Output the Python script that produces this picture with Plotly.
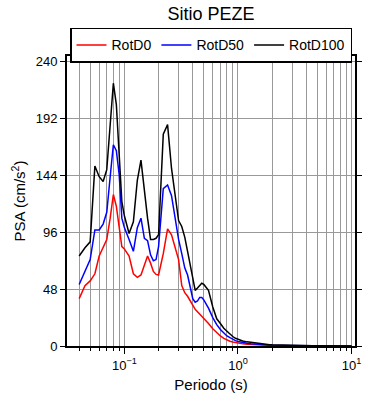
import plotly.graph_objects as go

periods = [0.04, 0.045, 0.05, 0.055, 0.06, 0.065, 0.07, 0.075, 0.08, 0.085, 0.09, 0.095,
           0.10, 0.11, 0.12, 0.13, 0.14, 0.15, 0.16, 0.17, 0.18, 0.19,
           0.20, 0.22, 0.24, 0.26, 0.28, 0.30, 0.32, 0.34, 0.36, 0.38,
           0.40, 0.42, 0.44, 0.46, 0.48, 0.50, 0.55, 0.60, 0.65, 0.70,
           0.75, 0.80, 0.85, 0.90, 0.95, 1.0, 1.1, 1.2, 1.3, 1.4,
           1.5, 1.6, 1.7, 1.8, 1.9, 2.0, 2.5, 3.0, 3.5, 4.0,
           4.5, 5.0, 6.0, 7.0, 8.0, 9.0, 10.0]

rotd0 = [40, 51, 55, 61, 76, 83, 90, 108, 128, 118, 100, 84,
         82, 76, 61, 58, 60, 68, 76, 70, 63, 60.5,
         60, 78, 99, 94, 82, 73, 51, 45, 42, 38,
         34, 31, 29, 27, 26, 24, 19, 14.5, 11, 8.5,
         6.5, 5.0, 4.0, 3.3, 2.8, 2.3, 1.8, 1.5, 1.25, 1.05,
         0.9, 0.8, 0.7, 0.6, 0.55, 0.5, 0.3, 0.2, 0.15, 0.1,
         0.08, 0.06, 0.04, 0.03, 0.02, 0.02, 0.01]

rotd50 = [52, 63, 73, 98, 98, 103, 113, 143, 170, 165, 145, 108,
          100, 90, 80, 100, 108, 91, 89, 77, 72, 73,
          84, 133, 136, 127, 106, 90, 78, 66, 60, 48,
          40, 37, 38, 41, 41, 39, 32, 24, 18, 14,
          11, 8.5, 7.0, 5.5, 4.5, 3.8, 2.8, 2.3, 1.9, 1.6,
          1.3, 1.15, 1.0, 0.9, 0.8, 0.7, 0.45, 0.3, 0.2, 0.15,
          0.12, 0.09, 0.06, 0.04, 0.03, 0.03, 0.02]

rotd100 = [76, 83, 88, 152, 143, 139, 149, 191, 222, 204, 165, 122,
           110, 95, 105, 140, 157, 130, 108, 90, 90, 91,
           94, 179, 187, 150, 125, 106, 101, 92, 80, 68,
           56, 47, 49, 51, 53, 52, 47, 33, 23, 19,
           15, 12.5, 10, 8.0, 6.5, 5.5, 4.3, 3.5, 3.0, 2.5,
           2.1, 1.8, 1.5, 1.3, 1.15, 1.0, 0.6, 0.4, 0.3, 0.2,
           0.15, 0.12, 0.08, 0.06, 0.05, 0.04, 0.03]

series_names = ["RotD0", "RotD50", "RotD100"]
series_colors = ["#ff0000", "#0000ff", "#000000"]
yticks = [0, 48, 96, 144, 192, 240]
xtick_vals = [0.1, 1, 10]
xtick_text = ["10<sup>\u22121</sup>", "10<sup>0</sup>", "10<sup>1</sup>"]

fig = go.Figure()
for name, vals, col in zip(series_names, [rotd0, rotd50, rotd100], series_colors):
    fig.add_trace(go.Scatter(x=periods, y=vals, mode="lines", name=name,
                             line=dict(color=col, width=1.5)))
# invisible helper trace to carry the top (mirrored) axis with minor ticks
fig.add_trace(go.Scatter(x=periods, y=rotd100, xaxis="x2", mode="lines",
                         line=dict(color="rgba(0,0,0,0)", width=0),
                         showlegend=False, hoverinfo="skip"))

font = "Liberation Sans, Arial, sans-serif"
xr = [-1.505, 1.03]
fig.update_layout(
    width=390, height=400,
    margin=dict(l=67, r=35, t=56, b=54, autoexpand=False),
    paper_bgcolor="white", plot_bgcolor="white",
    font=dict(family=font, color="black", size=13),
    title=dict(text="Sitio PEZE", x=0.541, xanchor="center", y=0.965, yanchor="middle",
               font=dict(size=18)),
    showlegend=True,
    legend=dict(orientation="h", x=0.5, xanchor="center", y=1.097, yanchor="top",
                bordercolor="black", borderwidth=1.5, font=dict(size=14),
                bgcolor="white", itemwidth=30, tracegroupgap=0),
    xaxis=dict(type="log", range=xr, automargin=False,
               tickvals=xtick_vals, ticktext=xtick_text,
               ticks="outside", ticklen=6, tickwidth=1, tickcolor="black",
               showline=True, linecolor="black", linewidth=2, mirror=True,
               showgrid=True, gridcolor="#999999", gridwidth=0.8,
               minor=dict(ticks="outside", ticklen=3, tickwidth=1, tickcolor="black",
                          dtick="D1", showgrid=True, gridcolor="#999999", gridwidth=0.8),
               tickfont=dict(size=13),
               title=dict(text="Periodo (s)", font=dict(size=15), standoff=8),
               zeroline=False),
    xaxis2=dict(type="log", range=xr, automargin=False, overlaying="x", side="top",
                tickvals=xtick_vals, showticklabels=False,
                ticks="outside", ticklen=6, tickwidth=1, tickcolor="black",
                showline=False, showgrid=False, zeroline=False,
                minor=dict(ticks="outside", ticklen=3, tickwidth=1, tickcolor="black",
                           dtick="D1", showgrid=False)),
    yaxis=dict(range=[0, 245], tickvals=yticks, automargin=False,
               ticks="outside", ticklen=5, tickwidth=1, tickcolor="black",
               showline=True, linecolor="black", linewidth=2, mirror="allticks",
               showgrid=True, gridcolor="#999999", gridwidth=0.8,
               tickfont=dict(size=13),
               title=dict(text="PSA (cm/s<sup>2</sup>)", font=dict(size=15), standoff=6),
               zeroline=False),
)

fig.write_html("out.html", config={"displayModeBar": False},
               post_script="document.body.style.margin='0';document.body.style.overflow='hidden';")
